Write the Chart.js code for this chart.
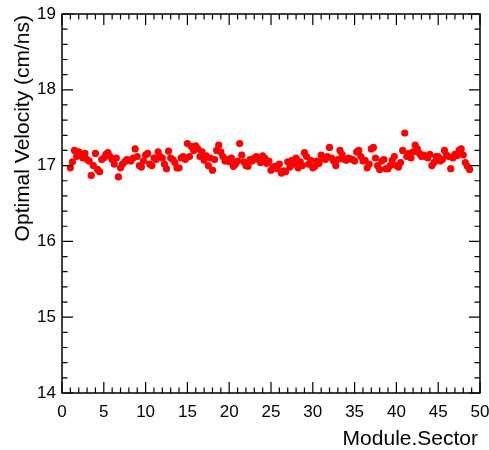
<!DOCTYPE html>
<html>
<head>
<meta charset="utf-8">
<script src="https://cdn.jsdelivr.net/npm/chart.js@4"></script>
<style>
  html, body { margin: 0; padding: 0; background: #fff; }
  #wrap { width: 489px; height: 450px; }
</style>
</head>
<body>
<div id="wrap"><canvas id="chart" width="489" height="450"></canvas></div>
<script>
// modules 1..48, 4 sectors each, placed at module + (sector-1)*0.25
const modules = Array.from({ length: 48 }, (_, i) => i + 1);
const sectorOffsets = [0, 0.25, 0.5, 0.75];

// optimal velocity (cm/ns), one row of 4 sectors per module
const velocities = [
  [16.97, 17.05, 17.20, 17.12], [17.18, 17.15, 17.10, 17.16], [17.08, 17.06, 16.87, 17.00],
  [17.16, 16.95, 16.92, 17.08], [17.10, 17.15, 17.17, 17.12], [17.08, 17.02, 17.10, 16.85],
  [16.97, 17.02, 17.05, 17.08], [17.07, 17.06, 17.10, 17.22], [17.12, 17.00, 16.98, 17.06],
  [17.14, 17.16, 17.02, 17.00], [17.10, 17.08, 17.18, 17.12], [17.10, 17.02, 16.96, 17.19],
  [17.10, 17.08, 17.04, 16.97], [16.97, 17.10, 17.12, 17.08], [17.29, 17.12, 17.25, 17.20],
  [17.26, 17.22, 17.12, 17.18], [17.07, 17.13, 17.00, 17.10], [16.94, 17.08, 17.20, 17.27],
  [17.18, 17.12, 17.06, 17.08], [17.05, 17.10, 16.99, 17.02], [17.06, 17.29, 17.14, 17.05],
  [17.00, 16.99, 17.08, 17.06], [17.10, 17.12, 17.08, 17.04], [17.13, 17.10, 17.03, 17.06],
  [16.94, 16.98, 16.99, 16.96], [17.02, 16.90, 16.93, 16.92], [17.05, 16.98, 17.07, 17.02],
  [17.10, 16.97, 17.05, 17.00], [17.17, 17.12, 17.02, 17.07], [16.97, 16.99, 17.06, 17.03],
  [17.14, 17.10, 17.08, 17.12], [17.24, 17.10, 17.06, 17.00], [17.08, 17.20, 17.15, 17.08],
  [17.07, 17.10, 17.09, 17.08], [17.06, 17.18, 17.20, 17.12], [17.06, 17.07, 16.97, 17.02],
  [17.22, 17.24, 17.10, 17.00], [16.95, 17.06, 17.08, 16.96], [16.96, 17.00, 17.07, 17.12],
  [17.00, 16.98, 17.04, 17.20], [17.43, 17.12, 17.16, 17.10], [17.18, 17.27, 17.22, 17.16],
  [17.12, 17.14, 17.12, 17.10], [17.15, 17.00, 17.04, 17.12], [17.12, 17.06, 17.08, 17.20],
  [17.14, 17.12, 16.96, 17.10], [17.15, 17.13, 17.20, 17.22], [17.14, 17.04, 16.99, 16.95]
];

const xMin = 0, xMax = 50, xMajor = 5, xMinor = 1;
const yMin = 14, yMax = 19, yMajor = 1, yMinor = 0.2;
const xTitle = "Module.Sector";
const yTitle = "Optimal Velocity (cm/ns)";

const points = [];
modules.forEach((m, i) => {
  sectorOffsets.forEach((off, s) => {
    points.push({ x: m + off, y: velocities[i][s] });
  });
});

const FONT = "'Liberation Sans', Arial, Helvetica, sans-serif";

// ROOT-like frame with inward ticks on all four sides, plus axis titles
const frameAndTicks = {
  id: "frameAndTicks",
  afterDraw(chart) {
    const { ctx, chartArea: a, scales } = chart;
    const xs = scales.x, ys = scales.y;
    ctx.save();
    ctx.strokeStyle = "#000";
    ctx.lineWidth = 1.5;
    ctx.strokeRect(a.left, a.top, a.right - a.left, a.bottom - a.top);

    ctx.lineWidth = 1.2;
    ctx.beginPath();
    const nx = Math.round((xMax - xMin) / xMinor);
    for (let i = 0; i <= nx; i++) {
      const v = xMin + i * xMinor;
      const px = xs.getPixelForValue(v);
      const len = Math.abs(v / xMajor - Math.round(v / xMajor)) < 1e-6 ? 11 : 5.5;
      ctx.moveTo(px, a.bottom); ctx.lineTo(px, a.bottom - len);
      ctx.moveTo(px, a.top); ctx.lineTo(px, a.top + len);
    }
    const ny = Math.round((yMax - yMin) / yMinor);
    for (let i = 0; i <= ny; i++) {
      const v = yMin + i * yMinor;
      const py = ys.getPixelForValue(v);
      const len = Math.abs(v / yMajor - Math.round(v / yMajor)) < 1e-6 ? 11 : 5.5;
      ctx.moveTo(a.left, py); ctx.lineTo(a.left + len, py);
      ctx.moveTo(a.right, py); ctx.lineTo(a.right - len, py);
    }
    ctx.stroke();

    ctx.fillStyle = "#000";
    ctx.font = "21px " + FONT;
    ctx.textAlign = "right";
    ctx.textBaseline = "alphabetic";
    ctx.fillText(xTitle, a.right - 2, 445);

    ctx.translate(29, a.top);
    ctx.rotate(-Math.PI / 2);
    ctx.textAlign = "right";
    ctx.fillText(yTitle, -1, 0);
    ctx.restore();
  }
};

new Chart(document.getElementById("chart"), {
  type: "scatter",
  data: {
    datasets: [{
      data: points,
      backgroundColor: "#ff0000",
      borderWidth: 0,
      pointRadius: 3.6,
      pointHoverRadius: 3.6
    }]
  },
  options: {
    responsive: false,
    animation: false,
    layout: { padding: { top: 14, right: 9, left: 0, bottom: 0 } },
    plugins: { legend: { display: false }, tooltip: { enabled: false } },
    scales: {
      x: {
        type: "linear", min: xMin, max: xMax,
        grid: { display: false, drawTicks: false },
        border: { display: false },
        ticks: { stepSize: xMajor, maxRotation: 0, padding: 9, color: "#000",
                 font: { family: FONT, size: 17 } },
        afterFit(s) { s.height = 57; s.paddingLeft = 0; s.paddingRight = 0; }
      },
      y: {
        type: "linear", min: yMin, max: yMax,
        grid: { display: false, drawTicks: false },
        border: { display: false },
        ticks: { stepSize: yMajor, padding: 6, color: "#000",
                 font: { family: FONT, size: 17 } },
        afterFit(s) { s.width = 62; s.paddingTop = 0; s.paddingBottom = 0; }
      }
    }
  },
  plugins: [frameAndTicks]
});
</script>
</body>
</html>
